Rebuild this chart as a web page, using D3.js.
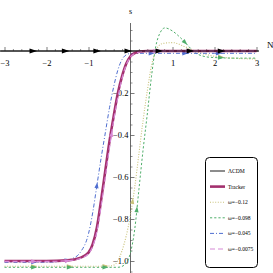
<!DOCTYPE html>
<html><head><meta charset="utf-8">
<script src="https://cdn.jsdelivr.net/npm/d3@7"></script>
<style>
html,body{margin:0;padding:0;background:#fff;}
svg{display:block;}
text{font-family:"Liberation Serif","DejaVu Serif",serif;}
</style></head>
<body>
<svg id="c" width="273" height="273"></svg>
<script>
// ---------- data ----------
const xTickValues = [-3,-2,-1,1,2,3];
const xTickLabels = ["\u22123","\u22122","\u22121","1","2","3"];
const yTickValues = [-0.2,-0.4,-0.6,-0.8,-1.0];
const yTickLabels = ["\u22120.2","\u22120.4","\u22120.6","\u22120.8","\u22121.0"];

const seriesNames = ["\u039BCDM","Tracker","\u03C9=\u22120.12","\u03C9=\u22120.098","\u03C9=\u22120.045","\u03C9=\u22120.0075"];

const lcdmN = [-3.1,3.05];
const lcdmS = [0,0];
const lcdmArrowN = [-2.32,-1.55,-0.8,-0.06,0.68,1.42,2.16];

const trackerN = [-3,-2,-1.5,-1.2,-1.0,-0.9,-0.8,-0.7,-0.6,-0.5,-0.4,-0.3,-0.2,-0.1,0,0.1,0.2,0.4,1,2,3];
const trackerS = [-1,-1,-0.997,-0.985,-0.96,-0.92,-0.84,-0.71,-0.57,-0.43,-0.31,-0.2,-0.12,-0.06,-0.025,-0.01,-0.004,0,0,0,0];

const w0075N = [-3,-2,-1.5,-1.2,-1.0,-0.9,-0.8,-0.7,-0.6,-0.5,-0.4,-0.3,-0.2,-0.1,0,0.1,0.2,0.4,1,2,3];
const w0075S = [-1.002,-1.002,-0.999,-0.988,-0.965,-0.93,-0.86,-0.74,-0.6,-0.46,-0.33,-0.22,-0.13,-0.065,-0.028,-0.012,-0.005,-0.001,0,0,0];
const w0075ArrowN = [-2.3,-1.5,-0.45,0.6,1.4];

const w045N = [-3,-2,-1.6,-1.4,-1.2,-1.0,-0.9,-0.8,-0.7,-0.6,-0.5,-0.4,-0.3,-0.2,-0.1,0,0.2,1,2,3];
const w045S = [-1.006,-1.006,-1.0,-0.99,-0.96,-0.87,-0.77,-0.64,-0.51,-0.39,-0.27,-0.17,-0.09,-0.04,-0.018,-0.012,-0.011,-0.011,-0.011,-0.011];
const w045ArrowN = [-2.3,-1.5,-0.8,0.5,1.3,2.1];

const w098N = [-3,-2,-1,-0.3,-0.15,0,0.1,0.2,0.3,0.4,0.5,0.6,0.7,0.82,1.0,1.18,1.35,1.55,1.9,2.5,3];
const w098S = [-1.03,-1.03,-1.03,-1.03,-1.02,-0.96,-0.85,-0.66,-0.47,-0.3,-0.12,0.02,0.085,0.11,0.095,0.065,0.03,-0.01,-0.03,-0.034,-0.034];
const w098ArrowN = [-2.3,-1.45,-0.6,0.15,1.3,2.15];

const w12N = [-3,-2,-1,-0.5,-0.4,-0.2,0,0.1,0.2,0.3,0.4,0.5,0.6,0.75,1.0,1.3,1.6,2,2.5,3];
const w12S = [-1.025,-1.025,-1.025,-1.024,-1.02,-0.95,-0.78,-0.65,-0.49,-0.33,-0.19,-0.07,0.0,0.035,0.04,0.02,-0.005,-0.025,-0.035,-0.038];
const w12ArrowN = [-2.3,-1.45,-0.6,0.05,2.15];

// ---------- setup ----------
const svg = d3.select("#c");
const x = d3.scaleLinear().domain([-3,3]).range([4.5,256.5]);
const y = d3.scaleLinear().domain([0,-1]).range([51,261]);

// axes
const xMinor = d3.range(-31,31).map(i=>i*0.2*0.5*2/1).filter(v=>v>=-3.05&&v<=3.05);
const xMinorVals = d3.range(-15,16).map(i=>+(i*0.2).toFixed(2)).filter(v=>Math.abs(v%1)>1e-6);
const yMinorVals = d3.range(-21,3).map(i=>+(i*0.05).toFixed(2)).filter(v=>Math.abs((v*5)%1)>1e-6);

const gx = svg.append("g").attr("transform",`translate(0,${y(0)})`);
gx.append("line").attr("x1",0).attr("x2",x(3.06)).attr("stroke","#000").attr("stroke-width",0.8);
gx.append("g").call(d3.axisBottom(x).tickValues(xMinorVals).tickSizeInner(-2).tickSizeOuter(0).tickFormat(""))
  .call(g=>g.select(".domain").remove()).selectAll("line").attr("stroke","#444").attr("stroke-width",0.6);
gx.append("g").call(d3.axisBottom(x).tickValues(xTickValues).tickSizeInner(-4).tickSizeOuter(0).tickPadding(9)
  .tickFormat((d,i)=>xTickLabels[i]))
  .call(g=>g.select(".domain").remove())
  .call(g=>g.selectAll("line").attr("stroke","#444").attr("stroke-width",0.7))
  .call(g=>g.selectAll("text").attr("font-size",8.5).attr("fill","#000").attr("font-family","Liberation Serif"));

const gy = svg.append("g").attr("transform",`translate(${x(0)},0)`);
gy.append("line").attr("y1",23).attr("y2",273).attr("stroke","#444").attr("stroke-width",0.8);
gy.append("g").call(d3.axisLeft(y).tickValues(yMinorVals).tickSizeInner(-2).tickSizeOuter(0).tickFormat(""))
  .call(g=>g.select(".domain").remove()).selectAll("line").attr("stroke","#444").attr("stroke-width",0.6);
gy.append("g").call(d3.axisLeft(y).tickValues(yTickValues).tickSizeInner(-4).tickSizeOuter(0).tickPadding(2)
  .tickFormat((d,i)=>yTickLabels[i]))
  .call(g=>g.select(".domain").remove())
  .call(g=>g.selectAll("line").attr("stroke","#444").attr("stroke-width",0.7))
  .call(g=>g.selectAll("text").attr("font-size",8.5).attr("fill","#000").attr("font-family","Liberation Serif"));

svg.append("text").attr("x",x(3.06)+8).attr("y",y(0)-3).attr("font-size",9).text("N");
svg.append("text").attr("x",x(0)).attr("y",14).attr("text-anchor","middle").attr("font-size",8).text("s");

// curves
const line = d3.line().x(d=>x(d[0])).y(d=>y(d[1])).curve(d3.curveMonotoneX);
const zip = (a,b)=>a.map((v,i)=>[v,b[i]]);

const series = [
  {N:w12N,S:w12S,arrows:w12ArrowN,color:"#c9c27a",w:1.1,dash:"1,1.6",as:0.8},
  {N:w098N,S:w098S,arrows:w098ArrowN,color:"#4fae6a",w:1,dash:"2.2,2",as:0.8},
  {N:w045N,S:w045S,arrows:w045ArrowN,color:"#4f6ed0",w:1,dash:"4,2,1,2",as:0.8},
  {N:trackerN,S:trackerS,arrows:[],color:"#a3306e",w:2.6,dash:null},
  {N:w0075N,S:w0075S,arrows:w0075ArrowN,color:"#d68ad6",w:1.2,dash:"5,3",as:0.8},
  {N:lcdmN,S:lcdmS,arrows:lcdmArrowN,color:"#000",w:0.9,dash:null,as:1}
];

series.forEach(s=>{
  const data = zip(s.N,s.S);
  const p = svg.append("path").attr("d",line(data)).attr("fill","none")
    .attr("stroke",s.color).attr("stroke-width",s.w);
  if(s.dash) p.attr("stroke-dasharray",s.dash);
  const interp = n=>{
    const i = d3.bisectLeft(s.N,n);
    const i0 = Math.max(0,Math.min(s.N.length-2,i-1));
    const t = (n-s.N[i0])/(s.N[i0+1]-s.N[i0]);
    return s.S[i0]+(s.S[i0+1]-s.S[i0])*t;
  };
  s.arrows.forEach(n=>{
    const px = x(n), py = y(interp(n));
    const p2x = x(n+0.02), p2y = y(interp(n+0.02));
    const ang = Math.atan2(p2y-py,p2x-px)*180/Math.PI;
    const k = s.as;
    svg.append("path").attr("d",`M${4*k},0L${-3.5*k},${-2.6*k}L${-3.5*k},${2.6*k}Z`)
      .attr("fill",s.color).attr("transform",`translate(${px},${py}) rotate(${ang})`);
  });
});

// legend
const lg = svg.append("g");
lg.append("rect").attr("x",205.5).attr("y",157.5).attr("width",52).attr("height",110).attr("rx",4)
  .attr("fill","#fff").attr("stroke","#000").attr("stroke-width",1);
const legendStyles = [
  {color:"#000",w:0.9,dash:null},
  {color:"#a3306e",w:2.6,dash:null},
  {color:"#c9c27a",w:1.1,dash:"1,1.6"},
  {color:"#4fae6a",w:1,dash:"2.2,2"},
  {color:"#4f6ed0",w:1,dash:"4,2,1,2"},
  {color:"#d68ad6",w:1.2,dash:"5,3"}
];
const legendY = d3.scalePoint().domain(seriesNames).range([171,249]);
seriesNames.forEach((nm,i)=>{
  const st = legendStyles[i];
  const ly = legendY(nm);
  const l = lg.append("line").attr("x1",210).attr("x2",225).attr("y1",ly).attr("y2",ly)
    .attr("stroke",st.color).attr("stroke-width",st.w);
  if(st.dash) l.attr("stroke-dasharray",st.dash);
  lg.append("text").attr("x",228).attr("y",ly+2).attr("font-size",5.6).text(nm);
});
</script>
</body></html>
